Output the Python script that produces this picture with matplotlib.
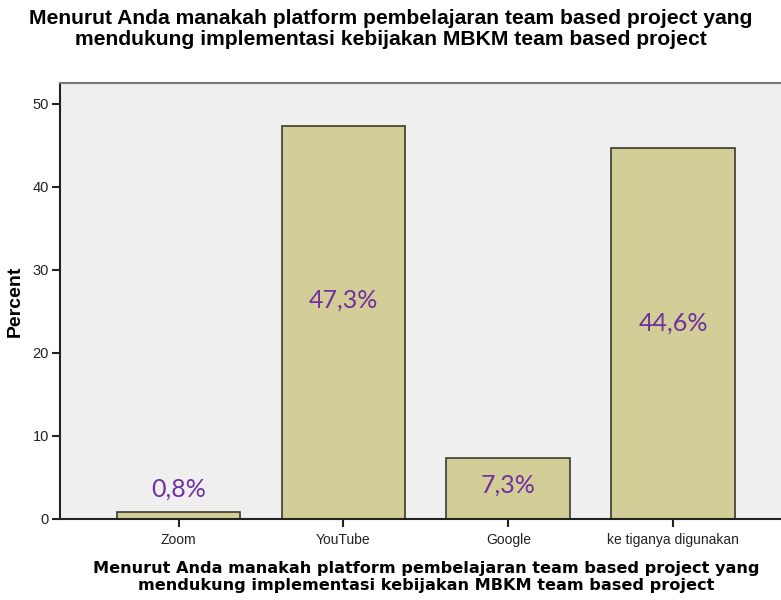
import matplotlib
matplotlib.use('Agg')
import matplotlib.pyplot as plt

# Data
categories = ['Zoom', 'YouTube', 'Google', 'ke tiganya digunakan']
percent = [0.8, 47.3, 7.3, 44.6]
labels = ['0,8%', '47,3%', '7,3%', '44,6%']
label_y = [3.6, 26.4, 4.1, 23.6]
yticks = [0, 10, 20, 30, 40, 50]

title = ('Menurut Anda manakah platform pembelajaran team based project yang\n'
         'mendukung implementasi kebijakan MBKM team based project')

fig = plt.figure(figsize=(7.81, 6.0), dpi=100)
ax = fig.add_axes([0.0768, 0.135, 0.937, 0.727])
ax.set_facecolor('#efefef')

x = range(len(categories))
ax.bar(x, percent, width=0.75, color='#d3ce97', edgecolor='#3a3a30', linewidth=1.2, zorder=2)

for i in x:
    ax.text(i, label_y[i], labels[i], ha='center', va='center',
            fontsize=18, color='#7030a0', family='Lato', zorder=3)

ax.set_xlim(-0.72, 3.72)
ax.set_ylim(0, 52.5)
ax.set_xticks(list(x))
ax.set_xticklabels(categories, fontsize=10, family='Liberation Sans', color='#222222')
ax.set_yticks(yticks)
ax.set_yticklabels([str(t) for t in yticks], fontsize=10.5, family='Liberation Sans', color='#222222')
ax.tick_params(axis='both', length=6, width=1.5, color='#222222', pad=2)
ax.tick_params(axis='x', pad=4)

ax.spines['left'].set_linewidth(1.5)
ax.spines['bottom'].set_linewidth(1.5)
ax.spines['left'].set_color('#222222')
ax.spines['bottom'].set_color('#222222')
ax.spines['top'].set_color('#777777')
ax.spines['top'].set_linewidth(1.5)
ax.spines['right'].set_visible(False)

ax.set_ylabel('Percent', fontsize=14, fontweight='bold', family='Liberation Sans', labelpad=6)
ax.set_xlabel(title, fontsize=11.6, fontweight='bold', family='DejaVu Sans', labelpad=10,
              linespacing=1.15)
fig.text(0.5, 0.985, title, ha='center', va='top', fontsize=15.2, fontweight='bold',
         family='Liberation Sans', linespacing=1.12)

fig.savefig('out.png', dpi=100)
